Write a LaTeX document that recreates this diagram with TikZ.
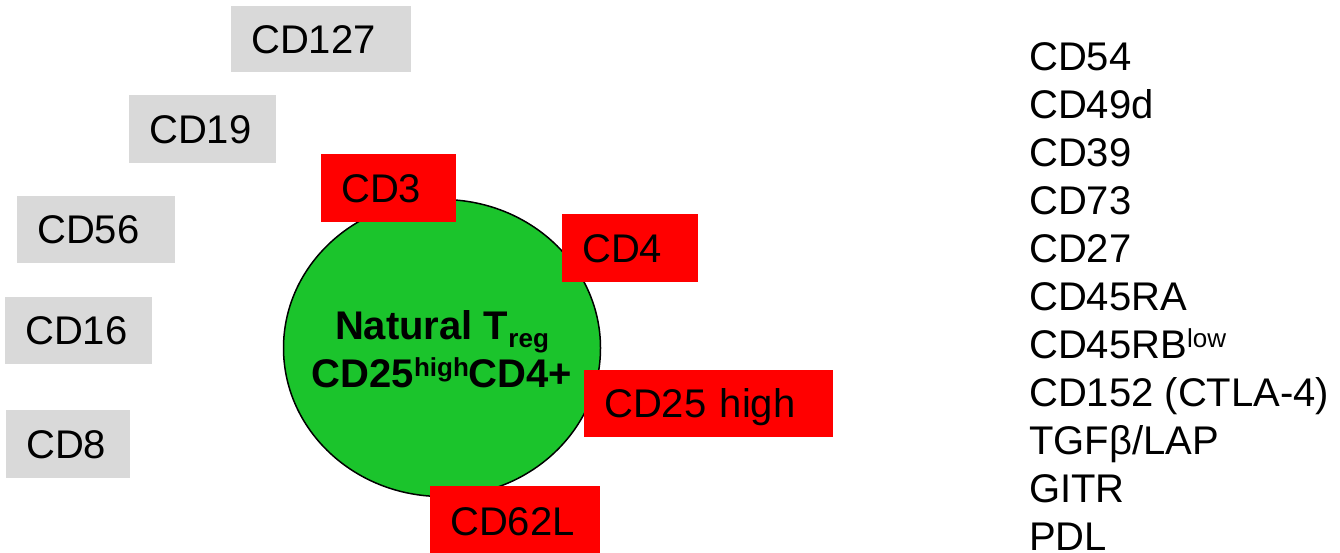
\documentclass[tikz,border=0pt]{standalone}
\usepackage{fontspec}
\setmainfont{Liberation Sans}
\usetikzlibrary{shapes.geometric}
\definecolor{boxgray}{RGB}{217,217,217}
\definecolor{cellgreen}{RGB}{27,196,44}
\definecolor{markred}{RGB}{255,0,0}
\newcommand\mysup[1]{\raisebox{11pt}{\fontsize{26}{26}\selectfont #1}}
\newcommand\mysub[1]{\raisebox{-8pt}{\fontsize{26}{26}\selectfont #1}}
\begin{document}
\begin{tikzpicture}[x=1pt,y=-1pt,
  lbl/.style={font=\fontsize{40}{48}\selectfont},
  marker/.style={lbl, anchor=north west, inner xsep=20pt, inner ysep=0pt,
    text height=28pt, text depth=0pt, align=left},
  gbox/.style={marker, fill=boxgray},
  rbox/.style={marker, fill=markred},
  listitem/.style={lbl, anchor=base west, inner sep=0pt},
  celltext/.style={font=\fontsize{40}{48}\selectfont\bfseries, anchor=base, inner sep=0pt},
  cellshape/.style={ellipse, draw=black, line width=1.5pt, fill=cellgreen, minimum width=317pt, minimum height=297pt, inner sep=0pt}]
\useasboundingbox (0,0) rectangle (1340,552);
% grey (negative) markers
\node[gbox, text width=140pt, minimum height=66pt] (cd127) at (231,6) {CD127};
\node[gbox, text width=107pt, minimum height=68pt] (cd19) at (129,95) {CD19};
\node[gbox, text width=118pt, minimum height=67pt] (cd56) at (17,196) {CD56};
\node[gbox, text width=107pt, minimum height=67pt] (cd16) at (5,297) {CD16};
\node[gbox, text width=84pt, minimum height=68pt] (cd8) at (6,410) {CD8};
% cell
\node[cellshape] (cell) at (442,348) {};
\node[celltext] (name) at (442,339) {Natural T\mysub{reg}};
\node[celltext] (pheno) at (442,387) {CD25\mysup{high}CD4+};
% red (positive) markers
\node[rbox, text width=95pt, minimum height=68pt] (cd3) at (321,154) {CD3};
\node[rbox, text width=96pt, minimum height=68pt] (cd4) at (562,214) {CD4};
\node[rbox, text width=209pt, minimum height=67pt] (cd25) at (584,370) {CD25 high};
\node[rbox, text width=130pt, minimum height=70pt] (cd62l) at (430,486) {CD62L};
% list
\node[listitem] (l1) at (1029,70) {CD54};
\node[listitem] (l2) at (1029,118) {CD49d};
\node[listitem] (l3) at (1029,166) {CD39};
\node[listitem] (l4) at (1029,214) {CD73};
\node[listitem] (l5) at (1029,262) {CD27};
\node[listitem] (l6) at (1029,310) {CD45RA};
\node[listitem] (l7) at (1029,358) {CD45RB\mysup{low}};
\node[listitem] (l8) at (1029,406) {CD152 (CTLA-4)};
\node[listitem] (l9) at (1029,454) {TGFβ/LAP};
\node[listitem] (l10) at (1029,502) {GITR};
\node[listitem] (l11) at (1029,550) {PDL};
\end{tikzpicture}
\end{document}
